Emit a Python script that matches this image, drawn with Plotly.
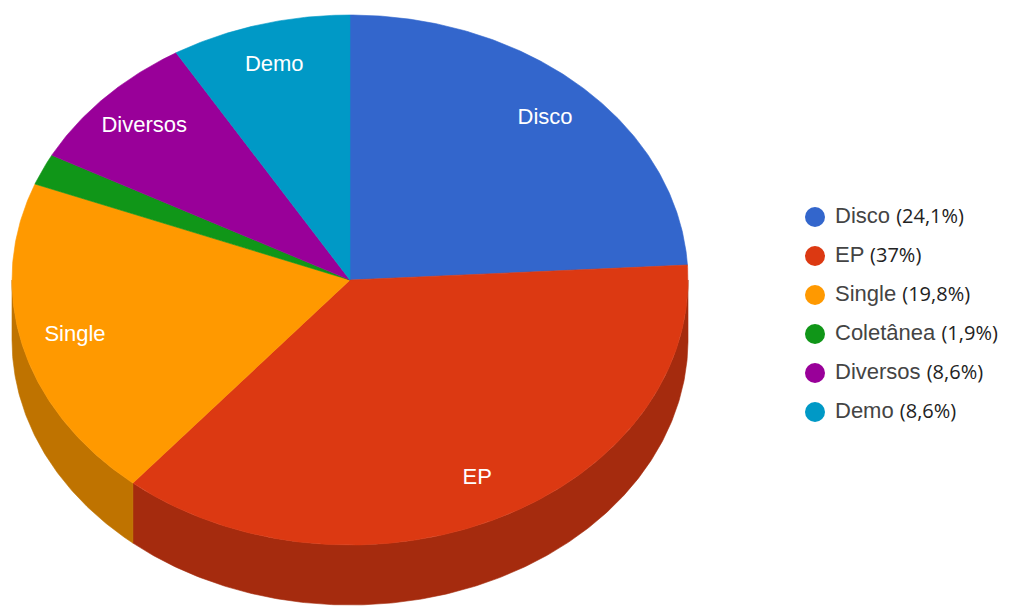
import numpy as np
import plotly.graph_objects as go

# ---- data ----
categories = ["Disco", "EP", "Single", "Coletânea", "Diversos", "Demo"]
values = [24.1, 37, 19.8, 1.9, 8.6, 8.6]

# ---- styles / layout constants ----
top_colors = ["#3366cc", "#dc3912", "#ff9900", "#109618", "#990099", "#0099c6"]
side_colors = ["#264c99", "#a52b0e", "#bf7300", "#0c7112", "#730073", "#007394"]
W, H = 1011, 611
CX, CY, RX, RY, DEPTH = 350, 280, 338, 265, 60
LABEL_R = 0.84
LEG_X, LEG_Y0, LEG_DY = 815, 217, 39


def pt(theta_deg):
    t = np.radians(theta_deg)
    return CX + RX * np.sin(t), CY - RY * np.cos(t)


total = float(sum(values))
bounds = np.concatenate([[0.0], np.cumsum(values) / total * 360.0])

fig = go.Figure()

# side walls (front half only)
for i, v in enumerate(values):
    a0, a1 = bounds[i], bounds[i + 1]
    lo, hi = max(a0, 90.0), min(a1, 270.0)
    if hi <= lo:
        continue
    th = np.linspace(lo, hi, max(4, int((hi - lo) * 2)))
    x, y = pt(th)
    xs = np.concatenate([x, x[::-1], x[:1]])
    ys = np.concatenate([y, y[::-1] + DEPTH, y[:1]])
    fig.add_trace(go.Scatter(x=xs, y=ys, mode="lines", fill="toself",
                             fillcolor=side_colors[i], line=dict(width=0.6, color=side_colors[i]),
                             hoverinfo="skip", showlegend=False))

# top faces
for i, v in enumerate(values):
    a0, a1 = bounds[i], bounds[i + 1]
    th = np.linspace(a0, a1, max(4, int((a1 - a0) * 2)))
    x, y = pt(th)
    xs = np.concatenate([[CX], x, [CX]])
    ys = np.concatenate([[CY], y, [CY]])
    fig.add_trace(go.Scatter(x=xs, y=ys, mode="lines", fill="toself",
                             fillcolor=top_colors[i], line=dict(width=0.6, color=top_colors[i]),
                             hoverinfo="text", text=f"{categories[i]}: {v}", showlegend=False))

# slice labels
lx, ly, lt = [], [], []
for i, v in enumerate(values):
    if v / total < 0.05:
        continue
    mid = (bounds[i] + bounds[i + 1]) / 2
    t = np.radians(mid)
    lx.append(CX + RX * LABEL_R * np.sin(t))
    ly.append(CY - RY * LABEL_R * np.cos(t))
    lt.append(categories[i])
fig.add_trace(go.Scatter(x=lx, y=ly, mode="text", text=lt, textposition="middle center",
                         textfont=dict(family="Liberation Sans, Arial", size=22, color="white"),
                         hoverinfo="skip", showlegend=False))


# legend (drawn)
def fmt(v):
    return f"{v:g}".replace(".", ",") + "%"


ly_leg = [LEG_Y0 + i * LEG_DY for i in range(len(categories))]
fig.add_trace(go.Scatter(x=[LEG_X] * len(categories), y=ly_leg, mode="markers",
                         marker=dict(size=20, color=top_colors, line=dict(width=0)),
                         hoverinfo="skip", showlegend=False))
leg_text = [
    f"<span style='font-family:Liberation Sans, Arial;font-size:22px;fill:#444444'>{c}</span>"
    f" <span style='font-family:Open Sans;font-size:20px;fill:#222222'>({fmt(v)})</span>"
    for c, v in zip(categories, values)
]
fig.add_trace(go.Scatter(x=[LEG_X + 20] * len(categories), y=ly_leg, mode="text",
                         text=leg_text, textposition="middle right",
                         textfont=dict(family="Liberation Sans, Arial", size=22, color="#444444"),
                         hoverinfo="skip", showlegend=False))

fig.update_layout(
    width=W, height=H, margin=dict(l=0, r=0, t=0, b=0),
    paper_bgcolor="white", plot_bgcolor="white", showlegend=False,
    xaxis=dict(range=[0, W], visible=False, fixedrange=True),
    yaxis=dict(range=[H, 0], visible=False, fixedrange=True),
)

fig.write_html("out.html")
